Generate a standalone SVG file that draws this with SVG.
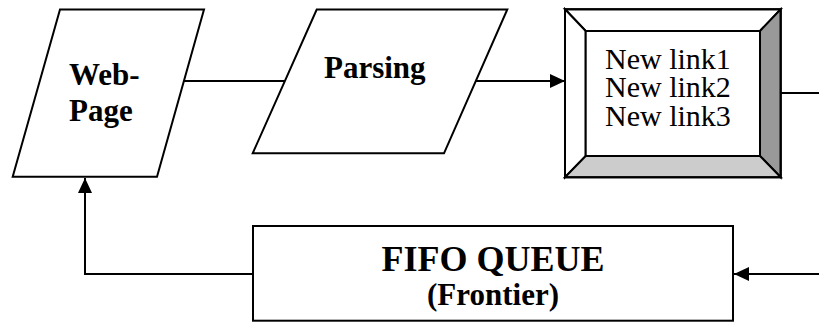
<svg xmlns="http://www.w3.org/2000/svg" width="819" height="322" viewBox="0 0 819 322">
  <style>
    .shape { fill: #ffffff; stroke: #000000; stroke-width: 2; stroke-linejoin: miter; }
    .edge { fill: none; stroke: #000000; stroke-width: 2; }
    .lbl { font-family: "Liberation Serif", "Times New Roman", serif; fill: #000000; }
    .bold { font-weight: bold; }
    .bevel { stroke: #000000; stroke-width: 2; }
  </style>
  <defs>
    <marker id="arrow" viewBox="0 0 15 14" refX="15" refY="7" markerWidth="15" markerHeight="14" markerUnits="userSpaceOnUse" orient="auto">
      <path d="M0,0 L15,7 L0,14 Z" fill="#000000"/>
    </marker>
  </defs>

  <rect width="819" height="322" fill="#ffffff"/>

  <!-- connectors -->
  <g id="connectors">
    <line class="edge" x1="182" y1="81" x2="285" y2="81"/>
    <line class="edge" x1="476" y1="81" x2="565" y2="81" marker-end="url(#arrow)"/>
    <line class="edge" x1="781" y1="93" x2="819" y2="93"/>
    <line class="edge" x1="819" y1="274" x2="734" y2="274" marker-end="url(#arrow)"/>
    <polyline class="edge" points="253,274 85,274 85,178" marker-end="url(#arrow)"/>
  </g>

  <!-- web page input -->
  <g id="webpage">
    <polygon class="shape" points="60,9.5 204,9.5 157,176.7 12.7,176.7"/>
    <text class="lbl bold" x="69" y="85" font-size="31">Web-</text>
    <text class="lbl bold" x="69" y="121" font-size="31">Page</text>
  </g>

  <!-- parser -->
  <g id="parsing">
    <polygon class="shape" points="316.7,9.5 507.3,9.5 444,153.3 252.7,153.3"/>
    <text class="lbl bold" x="324" y="78" font-size="31">Parsing</text>
  </g>

  <!-- extracted links, bevelled frame -->
  <g id="newlinks">
    <polygon class="bevel" points="565,9.3 780.7,9.3 760,31 585.7,31" fill="#ffffff"/>
    <polygon class="bevel" points="565,9.3 585.7,31 585.7,156 565,177.3" fill="#ffffff"/>
    <polygon class="bevel" points="780.7,9.3 780.7,177.3 760,156 760,31" fill="#999999"/>
    <polygon class="bevel" points="565,177.3 585.7,156 760,156 780.7,177.3" fill="#cccccc"/>
    <rect class="bevel" x="585.7" y="31" width="174.3" height="125" fill="#ffffff"/>
    <rect class="bevel" x="565" y="9.3" width="215.7" height="168" fill="none"/>
    <text class="lbl" font-size="30">
      <tspan x="605" y="68.5">New link1</tspan>
      <tspan x="605" y="97">New link2</tspan>
      <tspan x="605" y="125.5">New link3</tspan>
    </text>
  </g>

  <!-- frontier queue -->
  <g id="fifo">
    <rect class="shape" x="253" y="226" width="480" height="94.7"/>
    <text class="lbl bold" x="493" y="271" font-size="36" text-anchor="middle">FIFO QUEUE</text>
    <text class="lbl bold" x="493" y="305" font-size="31" text-anchor="middle">(Frontier)</text>
  </g>
</svg>
